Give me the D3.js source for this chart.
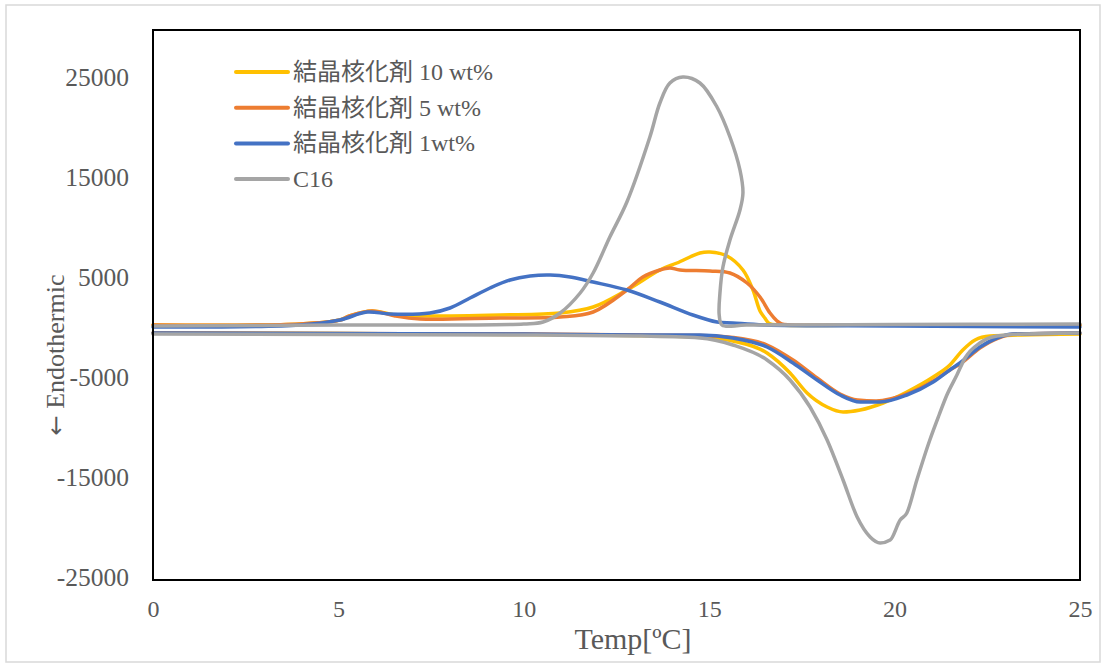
<!DOCTYPE html>
<html>
<head>
<meta charset="utf-8">
<script src="https://cdn.jsdelivr.net/npm/d3@7"></script>
<style>
  body { margin: 0; background: #fff; }
  text { font-family: "Liberation Serif", "Noto Sans CJK JP", serif; fill: #595959; }
</style>
</head>
<body>
<div id="container"></div>
<script>
let w = 1107;
let h = 666;

// chart box
let boxLeft = 153, boxRight = 1080, boxTop = 30, boxBottom = 580;

let seriesNames = ["結晶核化剤 10 wt%", "結晶核化剤 5 wt%", "結晶核化剤 1wt%", "C16"];
let seriesColors = ["#FFC000", "#ED7D31", "#4472C4", "#A5A5A5"];

let xTicks = [0, 5, 10, 15, 20, 25];
let yTicks = [-25000, -15000, -5000, 5000, 15000, 25000];

// heating runs (lower curves, 0 -> 25)
let wt10Heat = [
  [0,-300],[5,-350],[10,-450],[13,-550],[14.75,-700],[15.64,-1100],[16.56,-2300],[17.18,-4300],
  [17.64,-6300],[18.18,-7700],[18.61,-8200],[19.07,-8000],[19.69,-7300],[20.33,-6200],[21.04,-4700],
  [21.49,-3500],[21.84,-2000],[22.17,-1000],[22.57,-600],[23.4,-500],[25,-400]
];
let wt5Heat = [
  [0,-300],[5,-350],[10,-400],[13,-500],[14.75,-550],[15.64,-750],[16.56,-1500],[17.26,-3000],
  [17.91,-4800],[18.53,-6400],[19.0,-7000],[19.5,-7100],[20.33,-6400],[21.04,-5100],[21.49,-4000],
  [21.8,-3300],[22.3,-1800],[22.8,-800],[23.3,-400],[25,-300]
];
let wt1Heat = [
  [0,-300],[5,-350],[10,-400],[13,-500],[14.75,-500],[15.64,-800],[16.56,-1700],[17.26,-3300],
  [17.91,-5000],[18.53,-6500],[19.07,-7200],[19.61,-7200],[20.33,-6500],[21.04,-5200],[21.49,-4000],
  [21.76,-3300],[22.3,-1700],[22.76,-800],[23.19,-400],[25,-300]
];
let c16Heat = [
  [0,-400],[5,-450],[10,-500],[13,-600],[14.75,-800],[15.64,-1500],[16.56,-3000],[17.18,-5000],
  [17.72,-7700],[18.18,-11000],[18.61,-15000],[18.99,-18700],[19.34,-20700],[19.61,-21300],
  [19.88,-21000],[20.15,-19000],[20.33,-18300],[20.6,-15000],[20.95,-11000],[21.2,-8500],
  [21.41,-6500],[21.68,-4500],[21.9,-2800],[22.3,-1300],[22.76,-600],[23.5,-400],[25,-300]
];

// cooling runs (upper curves, 25 -> 0)
let wt10Cool = [
  [25,500],[20,500],[16.9,500],[16.62,650],[16.5,1200],[16.37,1900],[16.18,4000],[15.91,6000],
  [15.48,7400],[15.02,7800],[14.75,7700],[14.13,6700],[13.67,6000],[12.78,4000],[11.87,2300],
  [10.98,1700],[9.36,1500],[7.2,1400],[6.53,1500],[5.91,1900],[5.3,1400],[5.04,1000],[3.96,600],[0,500]
];
let wt5Cool = [
  [25,500],[20,500],[17.2,500],[16.95,600],[16.83,900],[16.64,1700],[16.37,3300],[16.02,4700],
  [15.56,5700],[15.02,5900],[14.21,6000],[13.94,6200],[13.67,6000],[13.21,5300],[12.78,4000],
  [11.87,1800],[10.98,1300],[9.36,1200],[7.2,1100],[6.53,1400],[5.91,1900],[5.3,1400],[5.04,1000],
  [3.96,600],[0,500]
];
let wt1Cool = [
  [25,300],[20,400],[16.5,500],[15.64,700],[15.21,800],[14.56,1500],[13.67,2800],[12.78,4000],
  [11.87,4800],[11.25,5300],[10.71,5500],[10.17,5400],[9.63,5000],[9.09,4200],[8.55,3200],
  [8.01,2200],[7.47,1700],[6.39,1600],[5.77,1800],[5.04,1000],[3.96,500],[0,300]
];
let c16Cool = [
  [25,600],[20,550],[16,500],[15.35,480],[15.27,1500],[15.29,3700],[15.37,6300],[15.56,9000],
  [15.83,12000],[15.91,13700],[15.83,16000],[15.56,19300],[15.21,22300],[14.75,24700],[14.29,25300],
  [13.94,24700],[13.67,22700],[13.4,19300],[12.78,12800],[12.32,9300],[11.87,5700],
  [11.52,3700],[10.98,1700],[10.52,800],[10.0,600],[5,500],[0,400]
];

let heatRuns = [wt10Heat, wt5Heat, wt1Heat, c16Heat];
let coolRuns = [wt10Cool, wt5Cool, wt1Cool, c16Cool];

let viz = d3.select("#container")
  .append("svg")
    .attr("width", w)
    .attr("height", h)
;

// outer frame
viz.append("rect")
  .attr("x", 6).attr("y", 5)
  .attr("width", 1094).attr("height", 657)
  .attr("fill", "#fff")
  .attr("stroke", "#d9d9d9")
  .attr("stroke-width", 1.5)
;

let xScale = d3.scaleLinear().domain([0, 25]).range([boxLeft, boxRight]);
let yScale = d3.scaleLinear().domain([-25000, 30000]).range([boxBottom, boxTop]);

// y axis labels (no tick marks)
let yAxis = d3.axisLeft(yScale).tickValues(yTicks).tickSize(0).tickPadding(24)
  .tickFormat(function(d){ return String(d); });
let yAxisGroup = viz.append("g").attr("class", "yaxis")
  .attr("transform", "translate(" + boxLeft + ",0)")
  .call(yAxis);
yAxisGroup.select(".domain").remove();
yAxisGroup.selectAll("text")
  .attr("font-size", "25.5px")
  .attr("font-family", "Liberation Serif")
  .attr("fill", "#595959")
  .attr("dy", "0.22em");

let xAxis = d3.axisBottom(xScale).tickValues(xTicks).tickSize(0).tickPadding(20)
  .tickFormat(function(d){ return String(d); });
let xAxisGroup = viz.append("g").attr("class", "xaxis")
  .attr("transform", "translate(0," + boxBottom + ")")
  .call(xAxis);
xAxisGroup.select(".domain").remove();
xAxisGroup.selectAll("text")
  .attr("font-size", "24px")
  .attr("font-family", "Liberation Serif")
  .attr("fill", "#595959");

// series lines
let heatLine = d3.line()
  .x(function(d){ return xScale(d[0]); })
  .y(function(d){ return yScale(d[1]); })
  .curve(d3.curveMonotoneX);
let coolLine = d3.line()
  .x(function(d){ return xScale(d[0]); })
  .y(function(d){ return yScale(d[1]); })
  .curve(d3.curveCatmullRom.alpha(0.5));

let vizGroup = viz.append("g").attr("class", "vizGroup");
seriesNames.forEach(function(name, i){
  let g = vizGroup.append("g").attr("class", "series");
  g.append("path")
    .attr("d", heatLine(heatRuns[i]))
    .attr("fill", "none")
    .attr("stroke", seriesColors[i])
    .attr("stroke-width", 3.5)
    .attr("stroke-linejoin", "round")
    .attr("stroke-linecap", "round");
  g.append("path")
    .attr("d", coolLine(coolRuns[i]))
    .attr("fill", "none")
    .attr("stroke", seriesColors[i])
    .attr("stroke-width", 3.5)
    .attr("stroke-linejoin", "round")
    .attr("stroke-linecap", "round");
});

// plot box border
viz.append("rect")
  .attr("x", boxLeft).attr("y", boxTop)
  .attr("width", boxRight - boxLeft).attr("height", boxBottom - boxTop)
  .attr("fill", "none")
  .attr("stroke", "#000")
  .attr("stroke-width", 2)
;

// legend
let legend = viz.append("g").attr("class", "legend");
let legendItems = legend.selectAll(".item")
  .data(seriesNames)
  .enter()
  .append("g")
    .attr("class", "item")
    .attr("transform", function(d, i){ return "translate(236," + (72 + i * 35.7) + ")"; })
;
legendItems.append("line")
  .attr("x1", 0).attr("x2", 52)
  .attr("y1", 0).attr("y2", 0)
  .attr("stroke", function(d, i){ return seriesColors[i]; })
  .attr("stroke-width", 4)
  .attr("stroke-linecap", "round");
legendItems.append("text")
  .attr("x", 57)
  .attr("y", 8)
  .attr("font-size", "24px")
  .text(function(d){ return d; });

// axis titles
viz.append("text")
  .attr("x", 633)
  .attr("y", 649)
  .attr("text-anchor", "middle")
  .attr("font-size", "30px")
  .attr("fill", "#404040")
  .text("Temp[ºC]");

let yTitle = viz.append("text")
  .attr("transform", "translate(64,355) rotate(-90)")
  .attr("text-anchor", "middle")
  .attr("font-size", "26px")
  .attr("fill", "#404040");
yTitle.append("tspan")
  .attr("font-family", "DejaVu Sans")
  .attr("font-size", "24px")
  .text("←");
yTitle.append("tspan").text(" Endothermic");
</script>
</body>
</html>
